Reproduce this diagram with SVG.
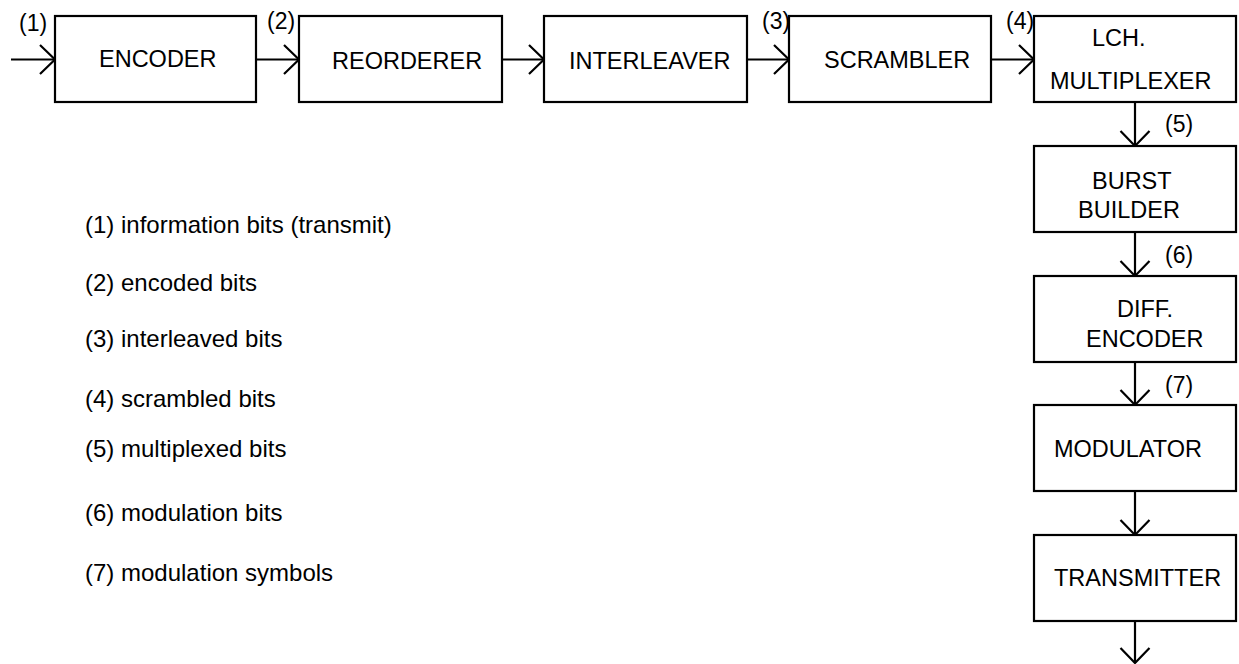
<svg xmlns="http://www.w3.org/2000/svg" width="1239" height="664" viewBox="0 0 1239 664">
<style>
.box{fill:#fff;stroke:#000;stroke-width:2.2}
.t{font-family:"Liberation Sans",Arial,sans-serif;font-size:23.5px;fill:#000}
.lbl{font-family:"Liberation Sans",Arial,sans-serif;font-size:23px;fill:#000}
.leg{font-family:"Liberation Sans",Arial,sans-serif;font-size:24px;fill:#000}
.c{fill:none;stroke:#000;stroke-width:2.2}
</style>
<defs>
<marker id="ah" markerUnits="userSpaceOnUse" markerWidth="40" markerHeight="40" refX="15" refY="15" orient="auto" overflow="visible">
<path d="M0,0.5 L15,15 L0,29.5" fill="none" stroke="#000" stroke-width="2.2"/>
</marker>
</defs>
<rect width="1239" height="664" fill="#fff"/>
<g id="connectors">
<line class="c" x1="11" y1="59.5" x2="55" y2="59.5" marker-end="url(#ah)"/>
<line class="c" x1="256" y1="59.5" x2="299" y2="59.5" marker-end="url(#ah)"/>
<line class="c" x1="502" y1="59.5" x2="544" y2="59.5" marker-end="url(#ah)"/>
<line class="c" x1="747" y1="59.5" x2="789" y2="59.5" marker-end="url(#ah)"/>
<line class="c" x1="991" y1="59.5" x2="1034" y2="59.5" marker-end="url(#ah)"/>
<line class="c" x1="1135" y1="102" x2="1135" y2="146" marker-end="url(#ah)"/>
<line class="c" x1="1135" y1="232" x2="1135" y2="276" marker-end="url(#ah)"/>
<line class="c" x1="1135" y1="362" x2="1135" y2="405" marker-end="url(#ah)"/>
<line class="c" x1="1135" y1="491" x2="1135" y2="535" marker-end="url(#ah)"/>
<line class="c" x1="1135" y1="621" x2="1135" y2="663" marker-end="url(#ah)"/>
<text class="lbl" x="19" y="31">(1)</text>
<text class="lbl" x="267" y="29">(2)</text>
<text class="lbl" x="762" y="29">(3)</text>
<text class="lbl" x="1006" y="29">(4)</text>
<text class="lbl" x="1165" y="132">(5)</text>
<text class="lbl" x="1165" y="263">(6)</text>
<text class="lbl" x="1165" y="393">(7)</text>
</g>
<g id="encoder"><rect class="box" x="55" y="16" width="201" height="86"/><text class="t" x="99" y="67">ENCODER</text></g>
<g id="reorderer"><rect class="box" x="299" y="16" width="203" height="86"/><text class="t" x="332" y="69">REORDERER</text></g>
<g id="interleaver"><rect class="box" x="544" y="16" width="203" height="86"/><text class="t" x="569" y="69">INTERLEAVER</text></g>
<g id="scrambler"><rect class="box" x="789" y="16" width="202" height="86"/><text class="t" x="824" y="68">SCRAMBLER</text></g>
<g id="lch-multiplexer"><rect class="box" x="1034" y="16" width="202" height="86"/><text class="t" x="1092" y="46">LCH.</text><text class="t" x="1050" y="89">MULTIPLEXER</text></g>
<g id="burst-builder"><rect class="box" x="1034" y="146" width="202" height="86"/><text class="t" x="1092" y="189">BURST</text><text class="t" x="1078" y="218">BUILDER</text></g>
<g id="diff-encoder"><rect class="box" x="1034" y="276" width="202" height="86"/><text class="t" x="1117" y="317">DIFF.</text><text class="t" x="1086" y="347">ENCODER</text></g>
<g id="modulator"><rect class="box" x="1034" y="405" width="202" height="86"/><text class="t" x="1054" y="457">MODULATOR</text></g>
<g id="transmitter"><rect class="box" x="1034" y="535" width="202" height="86"/><text class="t" x="1054" y="586">TRANSMITTER</text></g>
<g id="legend">
<text class="leg" x="85" y="233">(1) information bits (transmit)</text>
<text class="leg" x="85" y="291">(2) encoded bits</text>
<text class="leg" x="85" y="347">(3) interleaved bits</text>
<text class="leg" x="85" y="407">(4) scrambled bits</text>
<text class="leg" x="85" y="457">(5) multiplexed bits</text>
<text class="leg" x="85" y="521">(6) modulation bits</text>
<text class="leg" x="85" y="581">(7) modulation symbols</text>
</g>
</svg>
